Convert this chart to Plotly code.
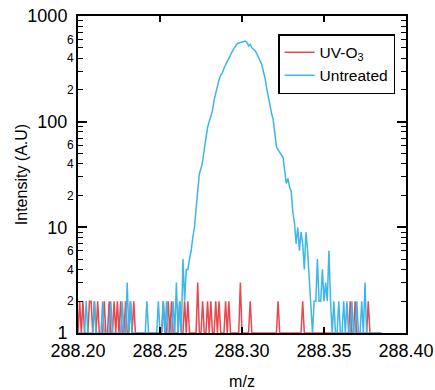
import plotly.graph_objects as go

# m/z sampling (instrument grid) and intensities
MZ_START = 288.200
MZ_STEP = 0.001

untreated = [
    1, 1, 1, 1, 1, 2, 1, 1, 1, 1,
    2, 1, 1, 1, 1, 2, 1, 1, 1, 1,
    2, 1, 1, 1, 1, 1, 1, 2, 1, 1,
    3, 1, 2, 1, 1, 1, 1, 1, 1, 1,
    1, 1, 2, 1, 1, 1, 1, 1, 1, 2,
    1, 1, 2, 1, 2, 1, 1, 1, 2, 1,
    3, 1, 2, 1, 5, 2, 4, 4, 5, 6,
    8, 10, 15, 22, 32, 36, 42, 55, 72, 88,
    100, 112, 127, 160, 190, 215, 250, 275, 290, 320,
    345, 370, 410, 430, 460, 490, 520, 545, 555, 560,
    570, 575, 580, 565, 520, 540, 500, 485, 470, 440,
    410, 380, 350, 300, 260, 210, 170, 140, 120, 105,
    75, 58, 54, 51, 48, 46, 35, 26, 29, 24,
    22, 14, 11, 7, 10, 6, 9, 7, 4, 9,
    6, 3, 2, 1, 2, 2, 5, 2, 2, 4,
    2, 3, 2, 6, 2, 1, 2, 1, 1, 2,
    1, 1, 2, 1, 2, 1, 1, 2, 1, 1,
    2, 1, 1, 2, 1, 3, 1, 1, 1, 1,
    1, 1, 1, 1, 1, 1,
]

uv_o3 = [
    1, 2, 1, 2, 1, 1, 1, 2, 2, 1,
    2, 1, 2, 1, 1, 1, 2, 1, 1, 2,
    1, 1, 2, 1, 2, 1, 2, 1, 1, 2,
    1, 1, 2, 1, 2, 1, 1, 1, 1, 1,
    1, 1, 1, 1, 1, 1, 1, 1, 1, 1,
    1, 1, 2, 1, 1, 2, 1, 2, 1, 1,
    1, 1, 2, 1, 1, 2, 1, 2, 1, 1,
    1, 1, 1, 3, 1, 1, 2, 1, 1, 2,
    1, 2, 1, 1, 2, 1, 2, 1, 1, 1,
    2, 1, 2, 1, 1, 1, 1, 1, 1, 3,
    1, 1, 1, 1, 1, 2, 1, 1, 1, 1,
    1, 1, 1, 1, 1, 1, 1, 1, 1, 1,
    1, 1, 2, 1, 1, 1, 1, 1, 1, 1,
    1, 1, 1, 1, 1, 1, 1, 2, 1, 1,
    1, 1, 1, 1, 1, 1, 1, 1, 1, 1,
    1, 1, 1, 1, 1, 1, 1, 1, 1, 1,
    1, 1, 1, 1, 1, 1, 2, 1, 1, 2,
    1, 1, 1, 1, 1, 1, 1, 2, 1, 1,
    1, 1, 1, 1, 1, 1,
]

mz = [round(MZ_START + MZ_STEP * k, 3) for k in range(len(untreated))]

x_ticks = [288.20, 288.25, 288.30, 288.35, 288.40]
x_ticktext = ["288.20", "288.25", "288.30", "288.35", "288.40"]
y_major = [1, 10, 100, 1000]
y_major_text = ["1", "10", "100", "1000"]
y_minor = [m * d for d in (1, 10, 100) for m in range(2, 10)]
y_minor_text = [str(m) if m in (2, 4, 6) else "" for d in (1, 10, 100) for m in range(2, 10)]

RED = "#E8474F"
BLUE = "#3DB6E8"
FONT = "Liberation Sans, Arial, sans-serif"

fig = go.Figure()
fig.add_trace(go.Scatter(x=mz, y=uv_o3, mode="lines", name="UV-O<sub>3</sub>",
                         line=dict(color=RED, width=1.5), yaxis="y"))
fig.add_trace(go.Scatter(x=mz, y=untreated, mode="lines", name="Untreated",
                         line=dict(color=BLUE, width=1.5), yaxis="y2"))

fig.update_layout(
    template="none",
    width=435, height=390,
    margin=dict(l=78, r=29, t=16, b=57),
    paper_bgcolor="white", plot_bgcolor="white",
    font=dict(family=FONT, color="black"),
    showlegend=True,
    legend=dict(x=0.61, y=0.943, xanchor="left", yanchor="top",
                bgcolor="white", bordercolor="black", borderwidth=1.5,
                font=dict(size=15.5, family=FONT), tracegroupgap=0,
                itemwidth=30),
    xaxis=dict(
        range=[288.20, 288.40], tickmode="array", tickvals=x_ticks, ticktext=x_ticktext,
        ticks="inside", ticklen=6, tickwidth=1.5, tickcolor="black",
        showline=True, linecolor="black", linewidth=2, mirror="ticks",
        showgrid=False, zeroline=False, automargin=False,
        tickfont=dict(size=18, family=FONT), ticklabelstandoff=0,
        title=dict(text="m/z", font=dict(size=16, family=FONT), standoff=20),
    ),
    # minor ticks with the small 2/4/6 labels
    yaxis=dict(
        type="log", range=[0, 3], tickmode="array", tickvals=y_minor, ticktext=y_minor_text,
        ticks="inside", ticklen=5, tickwidth=1.2, tickcolor="black",
        showline=True, linecolor="black", linewidth=2, mirror="ticks",
        showgrid=False, zeroline=False, automargin=False,
        tickfont=dict(size=12, family=FONT), ticklabelstandoff=0,
        title=dict(text="Intensity (A.U)", font=dict(size=16, family=FONT), standoff=35),
    ),
    # major decade ticks with the big labels
    yaxis2=dict(
        type="log", range=[0, 3], overlaying="y", side="left", anchor="x",
        tickmode="array", tickvals=y_major, ticktext=y_major_text,
        ticks="inside", ticklen=9, tickwidth=1.5, tickcolor="black",
        showline=True, linecolor="black", linewidth=2, mirror="ticks",
        showgrid=False, zeroline=False, automargin=False,
        tickfont=dict(size=18, family=FONT), ticklabelstandoff=5,
    ),
)

fig.write_html(
    "out.html",
    config={"displayModeBar": False},
    post_script="document.body.style.margin='0';document.body.style.overflow='hidden';",
)
